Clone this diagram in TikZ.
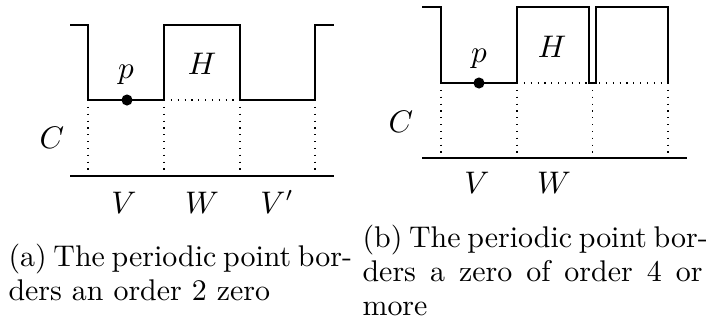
\documentclass[tikz,border=0pt]{standalone}
\begin{document}
\begin{tikzpicture}[x=0.3509pt,y=-0.3509pt,
  font=\fontsize{10.5pt}{12pt}\selectfont,
  edge/.style={line width=0.4pt, line join=miter},
  guide/.style={dotted, line width=0.4pt},
  lbl/.style={inner sep=0pt, anchor=base},
  captext/.style={inner sep=0pt, anchor=base west},
  dotpt/.style={fill=black, circle, inner sep=0pt, minimum size=3.9pt}]
\useasboundingbox (0,0) rectangle (706,326);
% ---------- panel (a)
\draw[edge] (70,25) -- (88,25) -- (88,100) -- (164,100) -- (164,25) -- (240,25)
  -- (240,100) -- (315,100) -- (315,25) -- (334,25);
\draw[edge] (70,176) -- (334,176);
\draw[guide] (164,100) -- (240,100);
\foreach \x in {88,164,240,315} \draw[guide] (\x,100) -- (\x,176);
\node[dotpt] (pa) at (127,100) {};
\node[lbl] (la) at (126,78) {$p$};
\node[lbl] (ha) at (202,74) {$H$};
\node[lbl] (ca) at (52,148) {$C$};
\node[lbl] (va) at (124,213) {$V$};
\node[lbl] (wa) at (202,213) {$W$};
\node[lbl] (vpa) at (277,213) {$V'$};
\node[captext] (capa1) at (8,266) {\makebox[118pt][s]{(a) The periodic point bor-}};
\node[captext] (capa2) at (8,300) {ders an order 2 zero};
% ---------- panel (b)
\draw[edge] (422,7) -- (441,7) -- (441,83) -- (517,83) -- (517,7) -- (589,7)
  -- (589,83) -- (596,83) -- (596,7) -- (668,7) -- (668,83);
\draw[edge] (422,158) -- (687,158);
\draw[guide] (517,83) -- (668,83);
\foreach \x in {441,517,592.5,668} \draw[guide] (\x,83) -- (\x,158);
\node[dotpt] (pb) at (479,83) {};
\node[lbl] (lb) at (479,62) {$p$};
\node[lbl] (hb) at (552,57) {$H$};
\node[lbl] (cb) at (401,132) {$C$};
\node[lbl] (vb) at (477,193) {$V$};
\node[lbl] (wb) at (554,193) {$W$};
\node[captext] (capb1) at (362,247) {\makebox[119.3pt][s]{(b) The periodic point bor-}};
\node[captext] (capb2) at (362,281) {\makebox[119.3pt][s]{ders a zero of order 4 or}};
\node[captext] (capb3) at (362,315) {more};
\end{tikzpicture}
\end{document}
